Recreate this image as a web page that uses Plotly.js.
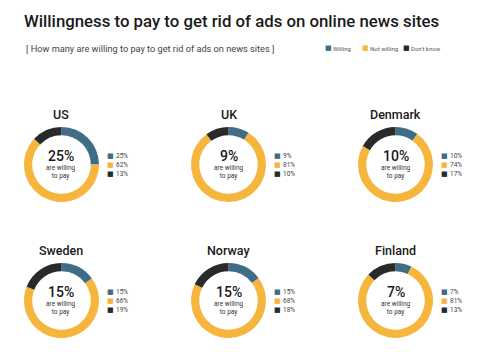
<!DOCTYPE html>
<html>
<head>
<meta charset="utf-8">
<script src="https://cdn.plot.ly/plotly-3.0.1.min.js"></script>
<style>html,body{margin:0;padding:0;background:#fff;}#chart{width:480px;height:352px;}</style>
</head>
<body>
<div id="chart"></div>
<script>
// ---- data ----
const countries = ["US", "UK", "Denmark", "Sweden", "Norway", "Finland"];
const categories = ["Willing", "Not willing", "Don't know"];
const willing    = [25, 9, 10, 15, 15, 7];
const notWilling = [62, 81, 74, 66, 68, 81];
const dontKnow   = [13, 10, 17, 19, 18, 13];

// ---- styles / layout ----
const colors = ["#3f6d87", "#f6b63e", "#282b2a"];
const W = 480, H = 352;
const colX = [61.5, 228.5, 395.5];
const rowY = [164.5, 300.5];
const R = 37.5;
const FONT = "Roboto, 'Open Sans', sans-serif";

const traces = [];
const annotations = [];
countries.forEach((c, i) => {
  const cx = colX[i % 3], cy = rowY[Math.floor(i / 3)];
  const vals = [willing[i], notWilling[i], dontKnow[i]];
  traces.push({
    type: "pie",
    labels: categories,
    values: vals,
    sort: false,
    direction: "clockwise",
    rotation: 0,
    hole: 0.78,
    textinfo: "none",
    hoverinfo: "label+value",
    showlegend: false,
    marker: {colors: colors, line: {width: 0}},
    domain: {x: [(cx - R) / W, (cx + R) / W], y: [1 - (cy + R) / H, 1 - (cy - R) / H]}
  });
  // country title
  annotations.push({xref: "paper", yref: "paper", x: cx / W, y: 1 - (cy - 50) / H,
    text: c, showarrow: false, font: {family: FONT, size: 12.5, color: "#1a1a1a", weight: 500},
    xanchor: "center", yanchor: "middle"});
  // center big number
  annotations.push({xref: "paper", yref: "paper", x: cx / W, y: 1 - (cy - 8.5) / H,
    text: willing[i] + "%", showarrow: false, font: {family: FONT, size: 14, color: "#1a1a1a", weight: 500},
    xanchor: "center", yanchor: "middle"});
  annotations.push({xref: "paper", yref: "paper", x: cx / W, y: 1 - (cy + 7) / H,
    text: "are willing<br>to pay", showarrow: false, font: {family: FONT, size: 6.5, color: "#333"},
    xanchor: "center", yanchor: "middle"});
  // small legend
  vals.forEach((v, k) => {
    const ly = cy - 9 + k * 9;
    annotations.push({xref: "paper", yref: "paper", x: (cx + 43) / W, y: 1 - ly / H,
      text: '<span style="color:' + colors[k] + '">■</span>', showarrow: false,
      font: {family: "DejaVu Sans", size: 7}, xanchor: "left", yanchor: "middle"});
    annotations.push({xref: "paper", yref: "paper", x: (cx + 52) / W, y: 1 - ly / H,
      text: v + "%", showarrow: false, font: {family: FONT, size: 6.5, color: "#444"},
      xanchor: "left", yanchor: "middle"});
  });
});

// top legend
const legX = [323, 360, 401];
categories.forEach((c, k) => {
  annotations.push({xref: "paper", yref: "paper", x: legX[k] / W, y: 1 - 48 / H,
    text: '<span style="color:' + colors[k] + '">■</span>', showarrow: false,
    font: {family: "DejaVu Sans", size: 7}, xanchor: "left", yanchor: "middle"});
  annotations.push({xref: "paper", yref: "paper", x: (legX[k] + 8) / W, y: 1 - 48 / H,
    text: c, showarrow: false, font: {family: FONT, size: 6, color: "#555"},
    xanchor: "left", yanchor: "middle"});
});

// subtitle
annotations.push({xref: "paper", yref: "paper", x: 24 / W, y: 1 - 48 / H,
  text: "[ How many are willing to pay to get rid of ads on news sites ]", showarrow: false,
  font: {family: FONT, size: 9.2, color: "#444"}, xanchor: "left", yanchor: "middle"});

const layout = {
  width: W, height: H,
  margin: {l: 0, r: 0, t: 0, b: 0},
  paper_bgcolor: "#fff",
  title: {text: "Willingness to pay to get rid of ads on online news sites",
    x: 24 / W, xanchor: "left", y: 1 - 21 / H, yanchor: "middle",
    font: {family: FONT, size: 16.8, color: "#1a1a1a", weight: 500}},
  showlegend: false,
  annotations: annotations
};

Plotly.newPlot("chart", traces, layout, {displayModeBar: false, staticPlot: true});
</script>
</body>
</html>
